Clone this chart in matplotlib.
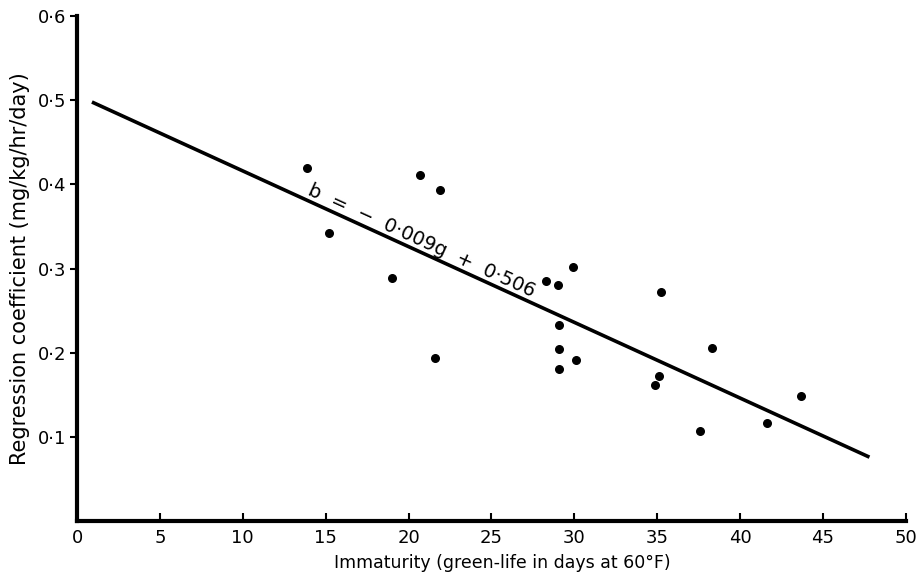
import matplotlib.pyplot as plt
import numpy as np

# green-life (days at 60F) and regression coefficient
green_life = [13.9, 20.7, 21.9, 15.2, 19.0, 29.9, 28.3, 29.0, 29.05, 21.6,
              29.1, 30.1, 29.07, 35.2, 35.1, 34.85, 38.3, 43.65, 41.6, 37.6]
coeff = [0.420, 0.411, 0.393, 0.342, 0.289, 0.302, 0.285, 0.281, 0.233, 0.194,
         0.204, 0.191, 0.181, 0.272, 0.172, 0.162, 0.206, 0.149, 0.116, 0.107]

slope = -0.009
intercept = 0.506
fit_range = [1.0, 47.7]

x_ticks = [0, 5, 10, 15, 20, 25, 30, 35, 40, 45, 50]
y_ticks = [0.1, 0.2, 0.3, 0.4, 0.5, 0.6]
y_tick_labels = ['0\u00b71', '0\u00b72', '0\u00b73', '0\u00b74', '0\u00b75', '0\u00b76']

plt.rcParams['font.family'] = ['DejaVu Sans']

fig = plt.figure(figsize=(9.19, 5.75), dpi=100)
ax = fig.add_axes([0.0838, 0.094, 0.902, 0.878])

ax.scatter(green_life, coeff, s=30, color='black', zorder=3)

gx = np.array(fit_range)
ax.plot(gx, intercept + slope * gx, color='black', lw=2.6)

ax.text(20.8, 0.333, 'b  =  \u2212  0\u00b7009g  +  0\u00b7506', fontsize=14,
        ha='center', va='center', rotation=np.degrees(np.arctan(slope)),
        transform_rotates_text=True, rotation_mode='anchor')

ax.set_xlim(0, 50)
ax.set_ylim(0, 0.6)
ax.set_xticks(x_ticks)
ax.set_yticks(y_ticks)
ax.set_yticklabels(y_tick_labels)

for side in ['top', 'right']:
    ax.spines[side].set_visible(False)
for side in ['left', 'bottom']:
    ax.spines[side].set_linewidth(3)

ax.tick_params(axis='x', direction='in', length=6, width=1.5, labelsize=13, pad=6)
ax.tick_params(axis='y', direction='out', length=5, width=1.5, labelsize=13, pad=3)

ax.set_xlabel('Immaturity (green-life in days at 60\u00b0F)', fontsize=12.5, labelpad=5)
ax.xaxis.label.set_x(0.513)
ax.set_ylabel('Regression coefficient (mg/kg/hr/day)', fontsize=15, labelpad=5)
ax.yaxis.label.set_y(0.5)

fig.savefig('out.png', dpi=100)
